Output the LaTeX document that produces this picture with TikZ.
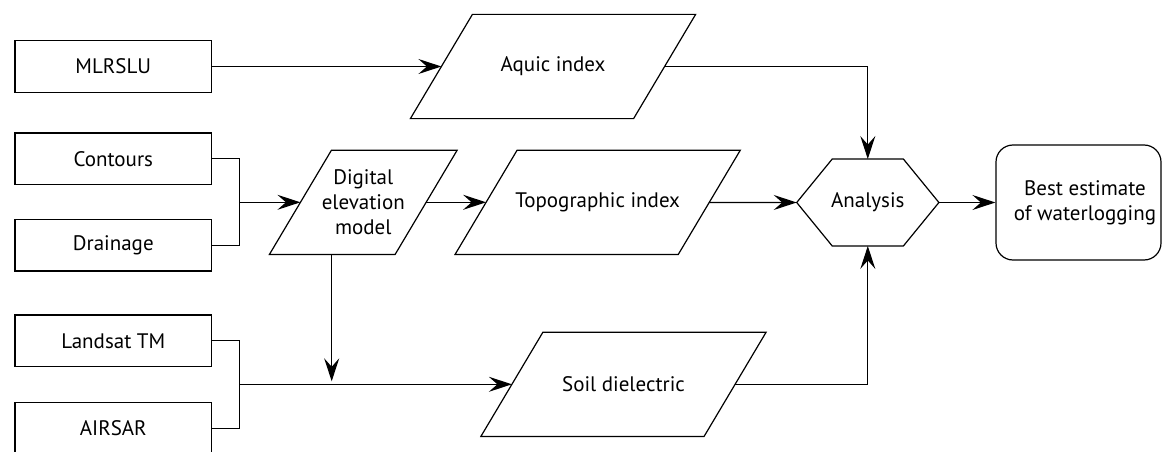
\documentclass[tikz,border=0pt]{standalone}
\usepackage{fontspec}
\setmainfont{PT Sans}
\usetikzlibrary{arrows.meta}
\begin{document}
\begin{tikzpicture}[x=1pt,y=-1pt,line width=1.2pt,
  every node/.style={font=\fontsize{21}{25}\selectfont},
  srcbox/.style={draw,rectangle,minimum width=196.7pt,minimum height=51.6pt,inner sep=0pt},
  % parallelogram: the node box is the mid-height body, the sides lean by 62pt over 103pt
  databox/.style={rectangle,minimum width=#1,minimum height=103pt,inner sep=0pt,align=center,
    append after command={\pgfextra{\draw
      ([xshift=-31pt]\tikzlastnode.south west) -- ([xshift=31pt]\tikzlastnode.north west)
      -- ([xshift=31pt]\tikzlastnode.north east) -- ([xshift=-31pt]\tikzlastnode.south east) -- cycle;}}},
  databox/.default=222pt,
  flow/.style={-{Stealth[length=23pt,width=15pt,inset=8.5pt]}},
]
\clip (0,0) rectangle (1162,452);

% input layers
\node[srcbox] (mlrslu)   at (113.3,66.5)  {MLRSLU};
\node[srcbox] (contours) at (113.3,158.8) {Contours};
\node[srcbox] (drainage) at (113.3,245.2) {Drainage};
\node[srcbox] (landsat)  at (113.3,340.8) {Landsat TM};
\node[srcbox] (airsar)   at (113.3,428.5) {AIRSAR};

% derived data sets
\node[databox] (aquic) at (553,66.5)   {Aquic index};
\node[databox=124.5pt] (dem) at (363.3,202.3) {Digital\\elevation\\model};
\node[databox] (topo)  at (597.7,202.3) {Topographic index};
\node[databox] (soil)  at (623.5,384.3) {Soil dielectric};

% analysis hexagon
\node[minimum width=141pt,minimum height=85.7pt,inner sep=0pt] (an) at (867.8,202.5) {Analysis};
\draw (an.west) -- ([xshift=35.5pt]an.north west) -- ([xshift=-35.5pt]an.north east)
  -- (an.east) -- ([xshift=-35.5pt]an.south east) -- ([xshift=35.5pt]an.south west) -- cycle;

% result
\node[draw,rounded corners=17pt,minimum width=165pt,minimum height=115pt] (bestbox) at (1078.5,202.5) {};
\node[align=center] (besttxt) at (1085,202.5) {Best estimate\\of waterlogging};

% junctions
\coordinate (j1) at (239.3,202.3);
\coordinate (j2) at (239.3,384.3);
\coordinate (j3) at (331.7,384.3);

% connectors
\draw (contours.east) -| (j1);
\draw (drainage.east) -| (j1);
\draw[flow] (j1) -- (dem);
\draw (landsat.east) -| (j2);
\draw (airsar.east) -| (j2);
\draw[flow] (j2) -- (soil);
\draw[flow,shorten >=3pt] (dem.south -| j3) -- (j3);
\draw[flow] (mlrslu) -- (aquic);
\draw[flow] (dem) -- (topo);
\draw[flow] (aquic) -| (an.north);
\draw[flow] (topo) -- (an.west);
\draw[flow] (soil) -| (an.south);
\draw[flow] (an.east) -- (bestbox.west);
\end{tikzpicture}
\end{document}
